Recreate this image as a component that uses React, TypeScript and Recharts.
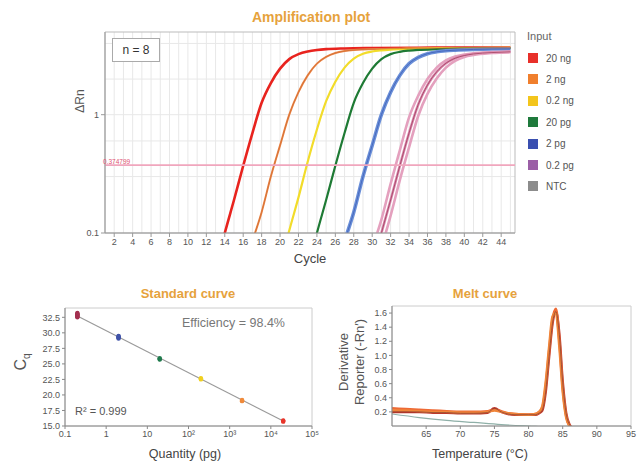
import React from "react";
import {
  LineChart,
  Line,
  XAxis,
  YAxis,
  CartesianGrid,
  ReferenceLine,
  ReferenceArea,
  ComposedChart,
  Scatter,
} from "recharts";

const FONT = "'Liberation Sans', Arial, Helvetica, sans-serif";
const TITLE_COLOR = "#e6a23c";
const TEXT = "#555";

// ---- amplification plot: [cycle, ΔRn]
const amp20ng = [[13, 0.05], [14, 0.1], [15, 0.19], [16, 0.37], [17, 0.7], [18, 1.26], [19, 1.85], [20, 2.45], [21, 2.95], [22, 3.25], [23, 3.42], [24, 3.52], [25, 3.58], [27, 3.63], [30, 3.66], [35, 3.68], [40, 3.7], [45, 3.7]];
const amp2ng = [[16, 0.045], [17, 0.085], [18, 0.15], [19, 0.3], [20, 0.55], [21, 1.0], [22, 1.55], [23, 2.15], [24, 2.7], [25, 3.08], [26, 3.32], [27, 3.45], [28, 3.52], [29, 3.56], [31, 3.6], [35, 3.64], [40, 3.67], [45, 3.68]];
const amp02ng = [[20, 0.052], [21, 0.105], [22, 0.2], [23, 0.4], [24, 0.75], [25, 1.3], [26, 1.9], [27, 2.5], [28, 2.98], [29, 3.27], [30, 3.42], [31, 3.5], [32, 3.55], [34, 3.6], [37, 3.63], [41, 3.66], [45, 3.67]];
const amp20pg = [[23, 0.05], [24, 0.1], [25, 0.19], [26, 0.37], [27, 0.7], [28, 1.26], [29, 1.85], [30, 2.45], [31, 2.95], [32, 3.25], [33, 3.4], [34, 3.48], [35, 3.53], [37, 3.58], [40, 3.62], [45, 3.65]];
const amp2pg = [[26, 0.045], [27, 0.085], [28, 0.15], [29, 0.3], [30, 0.55], [31, 1.0], [32, 1.55], [33, 2.15], [34, 2.7], [35, 3.05], [36, 3.28], [37, 3.4], [38, 3.47], [39, 3.51], [41, 3.56], [43, 3.59], [45, 3.6]];
const amp02pgA = [[30, 0.075], [31, 0.13], [32, 0.26], [33, 0.5], [34, 0.95], [35, 1.45], [36, 2.0], [37, 2.5], [38, 2.88], [39, 3.1], [40, 3.22], [41, 3.3], [43, 3.38], [45, 3.42]];
const amp02pgB = [[30, 0.05], [31, 0.1], [32, 0.19], [33, 0.37], [34, 0.7], [35, 1.22], [36, 1.78], [37, 2.3], [38, 2.72], [39, 3.0], [40, 3.16], [41, 3.26], [43, 3.35], [45, 3.4]];
const amp02pgC = [[31, 0.075], [32, 0.14], [33, 0.28], [34, 0.53], [35, 0.98], [36, 1.5], [37, 2.02], [38, 2.5], [39, 2.85], [40, 3.08], [41, 3.2], [43, 3.32], [45, 3.38]];
const threshold = 0.374799;

const cycleTicks = [2, 4, 6, 8, 10, 12, 14, 16, 18, 20, 22, 24, 26, 28, 30, 32, 34, 36, 38, 40, 42, 44];
const cycleGrid = [2, 3, 4, 5, 6, 7, 8, 9, 10, 11, 12, 13, 14, 15, 16, 17, 18, 19, 20, 21, 22, 23, 24, 25, 26, 27, 28, 29, 30, 31, 32, 33, 34, 35, 36, 37, 38, 39, 40, 41, 42, 43, 44, 45];
const rnGrid = [0.2, 0.3, 0.4, 0.5, 0.6, 0.7, 0.8, 0.9, 1, 2, 3, 4];

const legendLabels = ["20 ng", "2 ng", "0.2 ng", "20 pg", "2 pg", "0.2 pg", "NTC"];
const legendColors = ["#e8302a", "#f07f2d", "#f3c51c", "#1f7a3c", "#3a4fb0", "#9b5fa6", "#8c8c8c"];

// ---- standard curve: quantity (pg) vs Cq
const std02pg = [32.5, 32.6, 32.7, 32.8, 32.9, 33.0, 33.1, 33.2];
const std2pg = [29.1, 29.2, 29.3, 29.4, 29.5];
const std20pg = [25.7, 25.8, 25.9];
const std200pg = [22.5, 22.6, 22.7];
const std2000pg = [19.0, 19.1, 19.2];
const std20000pg = [15.7, 15.8, 15.9];
const stdFit = [[0.2, 32.7], [20000, 15.8]];
const qtyTicks = [0.1, 1, 10, 100, 1000, 10000, 100000];
const qtyLabels = ["0.1", "1", "10", "10²", "10³", "10⁴", "10⁵"];
const cqTicks = [15, 17.5, 20, 22.5, 25, 27.5, 30, 32.5];

// ---- melt curve
const meltTemps = [60, 62, 64, 66, 68, 70, 72, 74, 75, 76, 77, 78, 80, 81, 81.5, 82, 82.5, 83, 83.5, 84, 84.5, 85, 85.5, 86, 86.5, 88, 95];
const meltA = [0.25, 0.24, 0.23, 0.22, 0.21, 0.2, 0.2, 0.21, 0.23, 0.21, 0.18, 0.17, 0.16, 0.17, 0.19, 0.25, 0.55, 1.05, 1.5, 1.66, 1.22, 0.55, 0.15, 0.0, -0.04, -0.05, -0.05];
const meltB = [0.22, 0.22, 0.21, 0.2, 0.2, 0.19, 0.19, 0.2, 0.22, 0.2, 0.18, 0.17, 0.16, 0.17, 0.2, 0.28, 0.62, 1.12, 1.55, 1.6, 1.12, 0.48, 0.12, 0.0, -0.04, -0.05, -0.05];
const meltC = [0.2, 0.2, 0.2, 0.19, 0.19, 0.18, 0.18, 0.19, 0.25, 0.2, 0.17, 0.16, 0.16, 0.16, 0.18, 0.22, 0.48, 0.98, 1.45, 1.62, 1.3, 0.62, 0.18, 0.02, -0.03, -0.05, -0.05];
const ntcTemps = [60, 64, 68, 72, 76, 80, 85, 95];
const ntcMelt = [0.17, 0.12, 0.08, 0.05, 0.02, 0.0, -0.02, -0.03];
const tempTicks = [65, 70, 75, 80, 85, 90, 95];
const derivTicks = [0.2, 0.4, 0.6, 0.8, 1.0, 1.2, 1.4, 1.6];

const toPts = (arr: number[][]) => arr.map(([cycle, rn]) => ({ cycle, rn }));
const tick = { fontSize: 9, fill: TEXT, fontFamily: FONT };

const ampSeries = [
  { name: "20 ng", data: amp20ng, color: "#e8231e", w: 2.6 },
  { name: "2 ng", data: amp2ng, color: "#ef8748", w: 2 },
  { name: "0.2 ng", data: amp02ng, color: "#f2dc2a", w: 2.2 },
  { name: "20 pg", data: amp20pg, color: "#1e7a34", w: 2.2 },
  { name: "2 pg", data: amp2pg, color: "#6a8fd8", w: 3.6 },
  { name: "0.2 pg a", data: amp02pgA, color: "#e4a0be", w: 2.6 },
  { name: "0.2 pg b", data: amp02pgB, color: "#d98aae", w: 2.6 },
  { name: "0.2 pg c", data: amp02pgC, color: "#e4a0be", w: 2.6 },
];

const stdGroups = [
  { q: 0.2, cq: std02pg, color: "#a3304f" },
  { q: 2, cq: std2pg, color: "#3f52a8" },
  { q: 20, cq: std20pg, color: "#1f7a4c" },
  { q: 200, cq: std200pg, color: "#f0d020" },
  { q: 2000, cq: std2000pg, color: "#f08a3a" },
  { q: 20000, cq: std20000pg, color: "#e8352a" },
];

const meltData = meltTemps.map((t, i) => ({ t, a: meltA[i], b: meltB[i], c: meltC[i] }));
const ntcData = ntcTemps.map((t, i) => ({ t, ntc: ntcMelt[i] }));

const abs = (left: number, top: number, extra: React.CSSProperties = {}): React.CSSProperties => ({
  position: "absolute",
  left,
  top,
  fontFamily: FONT,
  whiteSpace: "nowrap",
  ...extra,
});

const rotLabel = (x: number, y: number, size: number): React.CSSProperties =>
  abs(x, y, { fontSize: size, color: TEXT, transform: "translate(-50%, -50%) rotate(-90deg)", textAlign: "center", lineHeight: 1.2 });

const Dot = (color: string) => (p: any) => <circle cx={p.cx} cy={p.cy} r={2.2} fill={color} />;

export default function App() {
  return (
    <div style={{ position: "absolute", left: 0, top: 0, width: 637, height: 466, background: "#fff", overflow: "hidden" }}>
      {/* Amplification plot */}
      <div style={abs(311, 17, { transform: "translate(-50%, -50%)", fontWeight: "bold", fontSize: 14, color: TITLE_COLOR })}>Amplification plot</div>
      <LineChart width={530} height={275} margin={{ top: 32, right: 15, left: 70, bottom: 12 }} style={{ position: "absolute", left: 0, top: 0 }}>
        <CartesianGrid stroke="#e8e8e8" verticalValues={cycleGrid} horizontalValues={rnGrid} />
        <XAxis type="number" dataKey="cycle" domain={[1, 45.5]} ticks={cycleTicks} allowDataOverflow interval={0}
          tick={tick} tickSize={4} stroke="#999" height={30} />
        <YAxis type="number" scale="log" domain={[0.1, 5]} ticks={[0.1, 1]} allowDataOverflow
          tick={tick} tickSize={4} stroke="#999" width={35} tickFormatter={(v: number) => String(v)} />
        <ReferenceArea x1={1} x2={45.5} y1={0.1} y2={5} fill="none" stroke="#bbb" ifOverflow="visible" />
        {ampSeries.map((s) => (
          <Line key={s.name} data={toPts(s.data)} dataKey="rn" type="monotone" stroke={s.color}
            strokeWidth={s.w} dot={false} isAnimationActive={false} />
        ))}
        <Line data={toPts(amp2pg)} dataKey="rn" type="monotone" stroke="#3f5fb8" strokeWidth={0.8} dot={false} isAnimationActive={false} />
        <Line data={toPts(amp02pgB)} dataKey="rn" type="monotone" stroke="#9a3050" strokeWidth={0.7} dot={false} isAnimationActive={false} />
        <Line data={toPts(amp2ng)} dataKey="rn" type="monotone" stroke="#c86a30" strokeWidth={0.7} dot={false} isAnimationActive={false} />
        <ReferenceLine y={threshold} stroke="#f0a6bd" strokeWidth={1.6}
          label={{ value: String(threshold), position: "insideTopLeft", offset: 2, fontSize: 6.5, fill: "#e05070", fontFamily: FONT, dy: -8, dx: -4 }} />
      </LineChart>
      <div style={abs(112, 38, { width: 46, height: 22, border: "1px solid #aaa", fontSize: 12, color: "#333", display: "flex", alignItems: "center", justifyContent: "center", background: "#fff" })}>n = 8</div>
      <div style={rotLabel(80, 101, 12)}>ΔRn</div>
      <div style={abs(310, 258, { transform: "translate(-50%, -50%)", fontSize: 13, color: "#444" })}>Cycle</div>

      {/* Legend */}
      <div style={abs(527, 30, { fontSize: 11, color: "#666" })}>Input</div>
      {legendLabels.map((l, i) => (
        <div key={l} style={abs(528, 52 + i * 21.4, { display: "flex", alignItems: "center", fontSize: 10, color: "#555", height: 12 })}>
          <span style={{ width: 10, height: 10, background: legendColors[i], display: "inline-block", marginRight: 8 }} />
          {l}
        </div>
      ))}

      {/* Standard curve */}
      <div style={abs(188, 293, { transform: "translate(-50%, -50%)", fontWeight: "bold", fontSize: 13, color: TITLE_COLOR })}>Standard curve</div>
      <ComposedChart width={320} height={186} margin={{ top: 28, right: 8, left: 30, bottom: 15 }} style={{ position: "absolute", left: 0, top: 280 }}>
        <XAxis type="number" dataKey="q" scale="log" domain={[0.1, 100000]} ticks={qtyTicks} allowDataOverflow interval={0}
          tick={tick} tickSize={3} stroke="#888" height={25}
          tickFormatter={(v: number) => qtyLabels[qtyTicks.indexOf(v)] ?? String(v)} />
        <YAxis type="number" dataKey="cq" domain={[15, 34]} ticks={cqTicks} allowDataOverflow interval={0}
          tick={tick} tickSize={3} stroke="#888" width={35} tickFormatter={(v: number) => v.toFixed(1)} />
        <ReferenceArea x1={0.1} x2={100000} y1={15} y2={34} fill="none" stroke="#ccc" ifOverflow="visible" />
        <Line data={stdFit.map(([q, cq]) => ({ q, cq }))} dataKey="cq" stroke="#9a9a9a" strokeWidth={1.2} dot={false} isAnimationActive={false} />
        {stdGroups.map((g) => (
          <Scatter key={g.q} data={g.cq.map((cq) => ({ q: g.q, cq }))} dataKey="cq" fill={g.color}
            shape={Dot(g.color)} isAnimationActive={false} />
        ))}
      </ComposedChart>
      <div style={abs(182, 316, { fontSize: 12.5, color: "#777" })}>Efficiency = 98.4%</div>
      <div style={abs(75, 405, { fontSize: 11, color: "#555" })}>R² = 0.999</div>
      <div style={rotLabel(22, 362, 16)}>C<sub style={{ fontSize: 10 }}>q</sub></div>
      <div style={abs(185, 454, { transform: "translate(-50%, -50%)", fontSize: 12.5, color: "#444" })}>Quantity (pg)</div>

      {/* Melt curve */}
      <div style={abs(485, 293, { transform: "translate(-50%, -50%)", fontWeight: "bold", fontSize: 13, color: TITLE_COLOR })}>Melt curve</div>
      <LineChart width={317} height={186} margin={{ top: 26, right: 6, left: 42, bottom: 15 }} style={{ position: "absolute", left: 320, top: 280 }}>
        <XAxis type="number" dataKey="t" domain={[60, 95]} ticks={tempTicks} allowDataOverflow interval={0}
          tick={tick} tickSize={3} stroke="#888" height={25} />
        <YAxis type="number" domain={[0, 1.7]} ticks={derivTicks} allowDataOverflow interval={0}
          tick={tick} tickSize={3} stroke="#888" width={30} tickFormatter={(v: number) => v.toFixed(1)} />
        <ReferenceArea x1={60} x2={95} y1={0} y2={1.7} fill="none" stroke="#ccc" ifOverflow="visible" />
        <Line data={ntcData} dataKey="ntc" type="monotone" stroke="#8fb0a8" strokeWidth={1.2} dot={false} isAnimationActive={false} />
        <Line data={meltData} dataKey="c" type="monotone" stroke="#c0392b" strokeWidth={2.6} dot={false} isAnimationActive={false} />
        <Line data={meltData} dataKey="a" type="monotone" stroke="#ee6a35" strokeWidth={2.6} dot={false} isAnimationActive={false} />
        <Line data={meltData} dataKey="b" type="monotone" stroke="#f0853a" strokeWidth={2.4} dot={false} isAnimationActive={false} />
        <Line data={meltData} dataKey="c" type="monotone" stroke="#6b3030" strokeWidth={0.6} dot={false} isAnimationActive={false} />
      </LineChart>
      <div style={rotLabel(352, 362, 13)}>Derivative<br />Reporter (-Rn′)</div>
      <div style={abs(480, 454, { transform: "translate(-50%, -50%)", fontSize: 12.5, color: "#444" })}>Temperature (°C)</div>
    </div>
  );
}
